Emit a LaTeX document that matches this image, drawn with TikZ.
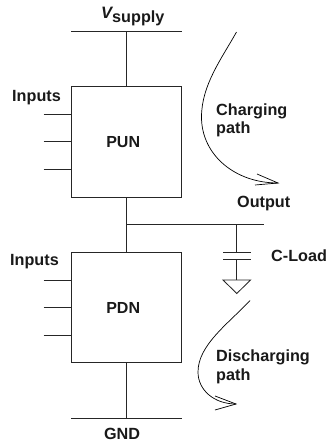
\documentclass[tikz,border=0pt]{standalone}
\usepackage{fontspec}
\setmainfont{Liberation Sans}
\begin{document}
\begin{tikzpicture}[x=1pt,y=-1pt,
  wire/.style={draw=black!85,line width=0.85pt},
  netbox/.style={draw=black!85,line width=0.85pt,minimum width=110.5pt,minimum height=110.5pt,inner sep=0pt,font=\bfseries\fontsize{16}{17}\selectfont,text=black!90},
  lbl/.style={inner sep=0pt,font=\bfseries\fontsize{16.2}{17}\selectfont,text=black!90},
  pathcurve/.style={draw=black,line width=0.7pt}]
\useasboundingbox (0,0) rectangle (329,445);
\node[netbox] (pun) at (126.2,141.8) {\kern-6pt\raisebox{0pt}{PUN}};
\node[netbox] (pdn) at (126.2,307.5) {\kern-6pt\raisebox{0pt}{PDN}};
\coordinate (supL) at (71,31.7); \coordinate (supR) at (181.5,31.7); \coordinate (supM) at (126.2,31.7);
\coordinate (gndL) at (71,418); \coordinate (gndR) at (181.5,418); \coordinate (gndM) at (126.2,418);
\coordinate (outM) at (126.2,224.5); \coordinate (outR) at (264,224.5); \coordinate (capT) at (236.8,224.5);
\draw[wire] (supL) -- (supR);
\draw[wire] (gndL) -- (gndR);
\draw[wire] (supM) -- (pun.north);
\draw[wire] (pun.south) -- (pdn.north);
\draw[wire] (pdn.south) -- (gndM);
\draw[wire] (outM) -- (outR);
\foreach \n/\y in {a/114,b/141.8,c/169.5,d/280,e/307.5,f/335}{
  \coordinate (in\n) at (43.5,\y);
  \coordinate (to\n) at (71,\y);
  \draw[wire] (in\n) -- (to\n);
}
% capacitor and ground
\coordinate (p1) at (236.8,252); \coordinate (p1l) at (223,252); \coordinate (p1r) at (250.5,252);
\coordinate (p2) at (236.8,259); \coordinate (p2l) at (223,259); \coordinate (p2r) at (250.5,259);
\coordinate (gt) at (236.8,280); \coordinate (gl) at (223,280); \coordinate (gr) at (250.5,280); \coordinate (gb) at (236.8,293.5);
\draw[wire] (capT) -- (p1);
\draw[wire] (p1l) -- (p1r);
\draw[wire] (p2l) -- (p2r);
\draw[wire] (p2) -- (gt);
\draw[wire] (gl) -- (gr) -- (gb) -- cycle;
% charging path
\coordinate (c0) at (236.5,32); \coordinate (c1) at (278,183);
\draw[pathcurve] (c0) .. controls (222,58) and (201.5,85) .. (201.5,117) .. controls (201.5,155) and (235,183) .. (c1);
\coordinate (ca) at (257,174); \coordinate (cb) at (255,185);
\draw[pathcurve] (ca) -- (c1) -- (cb);
% discharging path
\coordinate (d0) at (250,300.5); \coordinate (d1) at (236,404);
\draw[pathcurve] (d0) .. controls (228,324) and (198,345) .. (198,372) .. controls (198,390) and (214,404) .. (d1);
\coordinate (da) at (215,396); \coordinate (db) at (215,410);
\draw[pathcurve] (da) -- (d1) -- (db);
% labels
\node[lbl,anchor=base west] (vs) at (101,18.5) {{\fontsize{16.5}{18}\selectfont\itshape V}\raisebox{-4.2pt}{supply}};
\node[lbl,anchor=base west] (i1) at (12,101) {Inputs};
\node[lbl,anchor=base west] (i2) at (10,265.7) {Inputs};
\node[lbl,anchor=base west] (ch) at (216,115) {Charging};
\node[lbl,anchor=base west] (pt1) at (216,133.5) {path};
\node[lbl,anchor=base west] (ou) at (237,207.7) {Output};
\node[lbl,anchor=base west] (cl) at (271,261.7) {C-Load};
\node[lbl,anchor=base west] (di) at (216,361.7) {Discharging};
\node[lbl,anchor=base west] (pt2) at (216,380.7) {path};
\node[lbl,anchor=base] (gn) at (122,439.3) {GND};
\end{tikzpicture}
\end{document}
